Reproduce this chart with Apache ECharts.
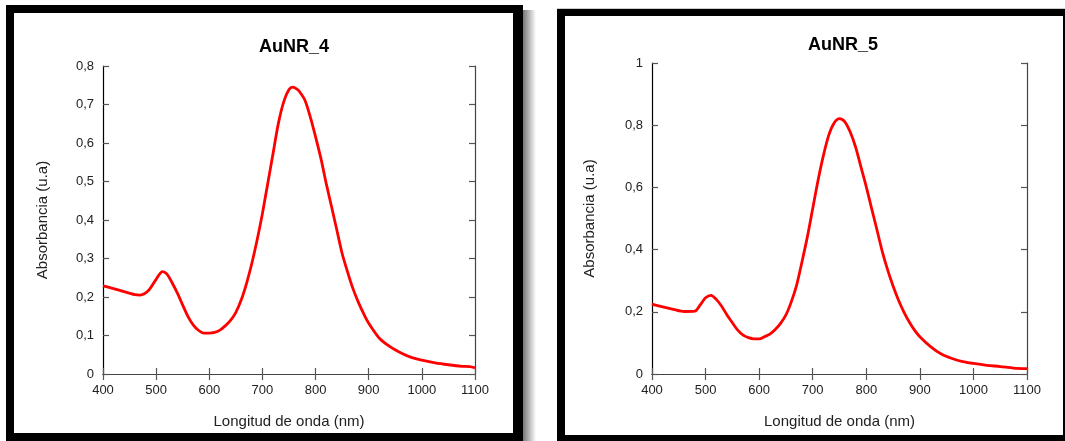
<!DOCTYPE html>
<html>
<head>
<meta charset="utf-8">
<script src="https://cdn.jsdelivr.net/npm/echarts@6/dist/echarts.min.js"></script>
<style>
html,body{margin:0;padding:0;background:#fff;}
#chart{width:1065px;height:441px;}
</style>
</head>
<body>
<div id="chart"></div>
<script>
// ---- Data ----
var titles = ['AuNR_4', 'AuNR_5'];
var xTitle = 'Longitud de onda (nm)';
var yTitle = 'Absorbancia (u.a)';

var wavelength4 = [400,430,460,470,485,500,512,520,530,540,550,560,570,580,590,600,610,620,630,640,650,660,670,680,690,700,710,720,730,740,750,757,765,770,780,790,800,810,820,830,840,850,860,870,880,890,900,920,940,960,980,1000,1025,1050,1075,1090,1100];
var absorb4 = [0.229,0.218,0.206,0.205,0.216,0.246,0.266,0.260,0.237,0.210,0.179,0.149,0.127,0.113,0.106,0.106,0.108,0.114,0.125,0.139,0.160,0.192,0.235,0.287,0.348,0.417,0.495,0.573,0.651,0.707,0.739,0.745,0.740,0.733,0.711,0.668,0.616,0.560,0.495,0.435,0.374,0.313,0.266,0.223,0.188,0.158,0.132,0.093,0.071,0.055,0.043,0.036,0.029,0.024,0.020,0.019,0.016];

var wavelength5 = [400,420,440,460,480,490,500,510,520,530,540,550,560,570,580,590,600,610,620,630,640,650,660,670,680,690,700,710,720,730,740,750,760,770,780,790,800,810,820,830,840,850,860,870,880,890,900,920,940,960,980,1000,1025,1050,1075,1100];
var absorb5 = [0.225,0.216,0.208,0.201,0.202,0.222,0.245,0.253,0.240,0.218,0.190,0.165,0.141,0.125,0.117,0.113,0.113,0.120,0.128,0.143,0.163,0.190,0.232,0.286,0.361,0.441,0.532,0.623,0.703,0.768,0.807,0.821,0.811,0.778,0.730,0.666,0.602,0.532,0.463,0.393,0.334,0.283,0.238,0.200,0.168,0.141,0.120,0.088,0.064,0.050,0.040,0.034,0.028,0.024,0.019,0.017];

var xTicks = [400, 1100, 100];           // min, max, interval
var yTicks4 = [0, 0.8, 0.1];
var yTicks5 = [0, 1, 0.2];

// ---- Chart ----
function pairs(xs, ys){ return xs.map(function(x,i){ return [x, ys[i]]; }); }
function fmtComma(v){ return String(Math.round(v*1000)/1000).replace('.', ','); }
function fmtPlain(v){ return String(v); }

var FONT = 'Liberation Sans, Arial, sans-serif';
var labelStyle = {color:'#222', fontSize:13, fontFamily:FONT};
var nameStyle = {color:'#222', fontSize:15, fontFamily:FONT};

var grids = [
  {left:103, top:66, width:372, height:308},
  {left:652, top:63, width:375, height:311}
];
var yT = [yTicks4, yTicks5];
var yGaps = [53, 55];

var xAxes = [], yAxes = [];
grids.forEach(function(g, i){
  xAxes.push({
    type:'value', gridIndex:i, min:xTicks[0], max:xTicks[1], interval:xTicks[2],
    position:'bottom', name:xTitle, nameLocation:'middle', nameGap:40, nameTextStyle:nameStyle,
    axisLine:{lineStyle:{color:'#000', width:1.2}},
    axisTick:{inside:true, length:6, lineStyle:{color:'#555', width:1.2}},
    axisLabel:Object.assign({margin:10, formatter:fmtPlain}, labelStyle),
    splitLine:{show:false}
  });
  xAxes.push({
    type:'value', gridIndex:i, min:xTicks[0], max:xTicks[1], interval:xTicks[2],
    position:'top',
    axisLine:{lineStyle:{color:'#444', width:1.2}},
    axisTick:{inside:true, length:6, lineStyle:{color:'#555', width:1.2}},
    axisLabel:{show:false}, splitLine:{show:false}
  });
  yAxes.push({
    type:'value', gridIndex:i, min:yT[i][0], max:yT[i][1], interval:yT[i][2],
    position:'left', name:yTitle, nameLocation:'middle', nameGap:yGaps[i], nameTextStyle:nameStyle,
    axisLine:{show:true, lineStyle:{color:'#000', width:1.2}},
    axisTick:{show:true, inside:true, length:6, lineStyle:{color:'#555', width:1.2}},
    axisLabel:Object.assign({margin:9, formatter:fmtComma}, labelStyle),
    splitLine:{show:false}
  });
  yAxes.push({
    type:'value', gridIndex:i, min:yT[i][0], max:yT[i][1], interval:yT[i][2],
    position:'right',
    axisLine:{show:true, lineStyle:{color:'#444', width:1.2}},
    axisTick:{show:true, inside:true, length:6, lineStyle:{color:'#555', width:1.2}},
    axisLabel:{show:false}, splitLine:{show:false}
  });
});

var chart = echarts.init(document.getElementById('chart'), null, {renderer:'canvas'});
chart.setOption({
  animation:false,
  backgroundColor:'#fff',
  title:[
    {text:titles[0], left:289, top:33, textAlign:'center', textStyle:{fontSize:18, fontWeight:'bold', color:'#000', fontFamily:FONT}},
    {text:titles[1], left:838, top:31, textAlign:'center', textStyle:{fontSize:18, fontWeight:'bold', color:'#000', fontFamily:FONT}}
  ],
  grid:grids,
  xAxis:xAxes,
  yAxis:yAxes,
  series:[
    {type:'line', xAxisIndex:0, yAxisIndex:0, data:pairs(wavelength4, absorb4), smooth:0.3, showSymbol:false, lineStyle:{color:'#ff0000', width:2.8}},
    {type:'line', xAxisIndex:2, yAxisIndex:2, data:pairs(wavelength5, absorb5), smooth:0.3, showSymbol:false, lineStyle:{color:'#ff0000', width:2.8}}
  ],
  graphic:[
    // shadow of left frame
    {type:'rect', shape:{x:523, y:10, width:13, height:431}, style:{fill:new echarts.graphic.LinearGradient(0,0,1,0,[{offset:0,color:'#777'},{offset:1,color:'#fff'}])}, z:100},
    // left frame
    {type:'rect', shape:{x:6, y:5, width:8, height:436}, style:{fill:'#000'}, z:100},
    {type:'rect', shape:{x:6, y:5, width:517, height:8}, style:{fill:'#000'}, z:100},
    {type:'rect', shape:{x:513, y:5, width:10, height:436}, style:{fill:'#000'}, z:100},
    {type:'rect', shape:{x:6, y:433, width:517, height:8}, style:{fill:'#000'}, z:100},
    // right frame
    {type:'rect', shape:{x:557, y:8, width:508, height:1}, style:{fill:'#ccc'}, z:100},
    {type:'rect', shape:{x:557, y:9, width:8, height:432}, style:{fill:'#000'}, z:100},
    {type:'rect', shape:{x:557, y:9, width:508, height:7}, style:{fill:'#000'}, z:100},
    {type:'rect', shape:{x:1063, y:9, width:2, height:432}, style:{fill:'#000'}, z:100},
    {type:'rect', shape:{x:557, y:435, width:508, height:6}, style:{fill:'#000'}, z:100}
  ]
});
</script>
</body>
</html>
